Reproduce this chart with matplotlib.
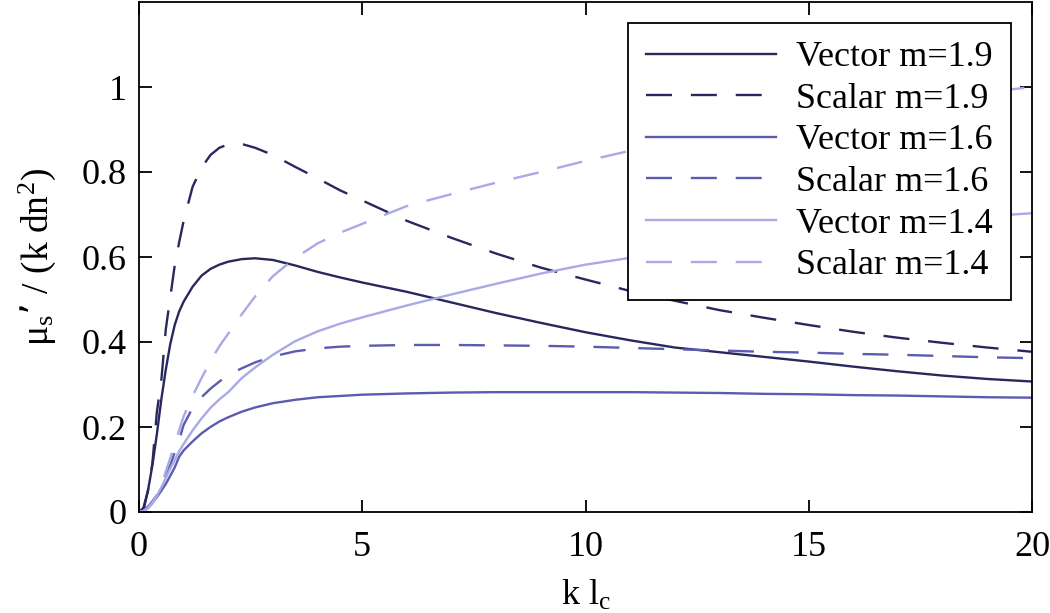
import numpy as np
import matplotlib.pyplot as plt

plt.rcParams['font.family'] = ['Liberation Serif', 'DejaVu Serif']
plt.rcParams['mathtext.default'] = 'regular'

# k*l_c values where the curves were read
x = [0, 0.1, 0.2, 0.3, 0.4, 0.5, 0.6, 0.7, 0.8, 0.9, 1.0, 1.2, 1.4, 1.6, 1.8, 2.0,
     2.3, 2.6, 3, 3.5, 4, 4.5, 5, 6, 7, 8, 9, 10, 11, 12, 13, 14, 15, 16, 17, 18, 19, 20]

vector_19 = [0, 0.004, 0.05, 0.11, 0.183, 0.265, 0.335, 0.395, 0.44, 0.472, 0.495, 0.53,
             0.556, 0.572, 0.582, 0.589, 0.595, 0.597, 0.593, 0.58, 0.565, 0.552, 0.54,
             0.518, 0.493, 0.468, 0.445, 0.423, 0.404, 0.387, 0.376, 0.365, 0.354, 0.342,
             0.331, 0.321, 0.313, 0.307]
scalar_19 = [0, 0.01, 0.05, 0.115, 0.235, 0.31, 0.43, 0.505, 0.58, 0.635, 0.685, 0.765,
             0.81, 0.84, 0.857, 0.865, 0.866, 0.857, 0.84, 0.812, 0.785, 0.757, 0.733,
             0.685, 0.645, 0.608, 0.575, 0.547, 0.52, 0.497, 0.475, 0.457, 0.44, 0.424,
             0.41, 0.398, 0.387, 0.377]
vector_16 = [0, 0.003, 0.012, 0.022, 0.035, 0.05, 0.066, 0.085, 0.105, 0.13, 0.145, 0.166,
             0.185, 0.2, 0.213, 0.223, 0.236, 0.246, 0.256, 0.264, 0.27, 0.273, 0.276,
             0.279, 0.281, 0.282, 0.282, 0.282, 0.282, 0.281, 0.28, 0.278, 0.277, 0.275,
             0.274, 0.272, 0.27, 0.269]
scalar_16 = [0, 0.003, 0.012, 0.025, 0.04, 0.06, 0.085, 0.11, 0.14, 0.17, 0.205, 0.245,
             0.27, 0.29, 0.307, 0.322, 0.338, 0.352, 0.366, 0.378, 0.385, 0.389, 0.391,
             0.393, 0.393, 0.392, 0.391, 0.389, 0.386, 0.383, 0.38, 0.377, 0.375, 0.372,
             0.37, 0.367, 0.364, 0.362]
vector_14 = [0, 0.002, 0.008, 0.02, 0.038, 0.058, 0.08, 0.102, 0.122, 0.143, 0.16, 0.192,
             0.22, 0.245, 0.265, 0.282, 0.315, 0.34, 0.37, 0.402, 0.425, 0.443, 0.458,
             0.486, 0.512, 0.537, 0.561, 0.582, 0.598, 0.615, 0.63, 0.643, 0.656, 0.668,
             0.678, 0.688, 0.696, 0.703]
scalar_14 = [0, 0.002, 0.01, 0.022, 0.04, 0.062, 0.095, 0.127, 0.16, 0.193, 0.225, 0.273,
             0.315, 0.355, 0.39, 0.42, 0.465, 0.507, 0.555, 0.598, 0.632, 0.657, 0.678,
             0.72, 0.748, 0.775, 0.80, 0.826, 0.85, 0.872, 0.895, 0.915, 0.932, 0.948,
             0.962, 0.975, 0.988, 1.0]

labels = ['Vector m=1.9', 'Scalar m=1.9', 'Vector m=1.6',
          'Scalar m=1.6', 'Vector m=1.4', 'Scalar m=1.4']

c_dark = '#28285f'
c_mid = '#5b5bb0'
c_light = '#a9a9e6'

fig = plt.figure(figsize=(10.5, 6.13), dpi=100)
ax = fig.add_axes([139/1050, 101/613, 893/1050, 510/613])

dash = (11, 8)
lw = 1.7
ax.plot(x, vector_19, color=c_dark, lw=lw, label=labels[0])
ax.plot(x, scalar_19, color=c_dark, lw=lw, dashes=dash, label=labels[1])
ax.plot(x, vector_16, color=c_mid, lw=lw, label=labels[2])
ax.plot(x, scalar_16, color=c_mid, lw=lw, dashes=dash, label=labels[3])
ax.plot(x, vector_14, color=c_light, lw=lw, label=labels[4])
ax.plot(x, scalar_14, color=c_light, lw=lw, dashes=dash, label=labels[5])

ax.set_xlim(0, 20)
ax.set_ylim(0, 1.2)
ax.set_xticks([0, 5, 10, 15, 20])
ax.set_yticks([0, 0.2, 0.4, 0.6, 0.8, 1])
ax.set_yticklabels(['0', '0.2', '0.4', '0.6', '0.8', '1'])
ax.tick_params(direction='in', length=9, width=1.3, labelsize=26,
               top=True, right=True)
ax.tick_params(axis='x', pad=14)
ax.tick_params(axis='y', pad=9)
for s in ax.spines.values():
    s.set_linewidth(1.3)

ax.set_xlabel('k l$_c$', fontsize=26, labelpad=10)
ax.set_ylabel('μ$_s$’ / (k dn$^2$)', fontsize=27, labelpad=17)

leg = ax.legend(loc='upper right', bbox_to_anchor=(1011/1050, 590/613),
                bbox_transform=fig.transFigure, borderaxespad=0,
                fontsize=26, handlelength=3.6, handletextpad=0.55,
                labelspacing=0.23, borderpad=0.5, fancybox=False,
                framealpha=1, edgecolor='black')
leg.get_frame().set_linewidth(1.3)

fig.savefig('out.png', dpi=100)
